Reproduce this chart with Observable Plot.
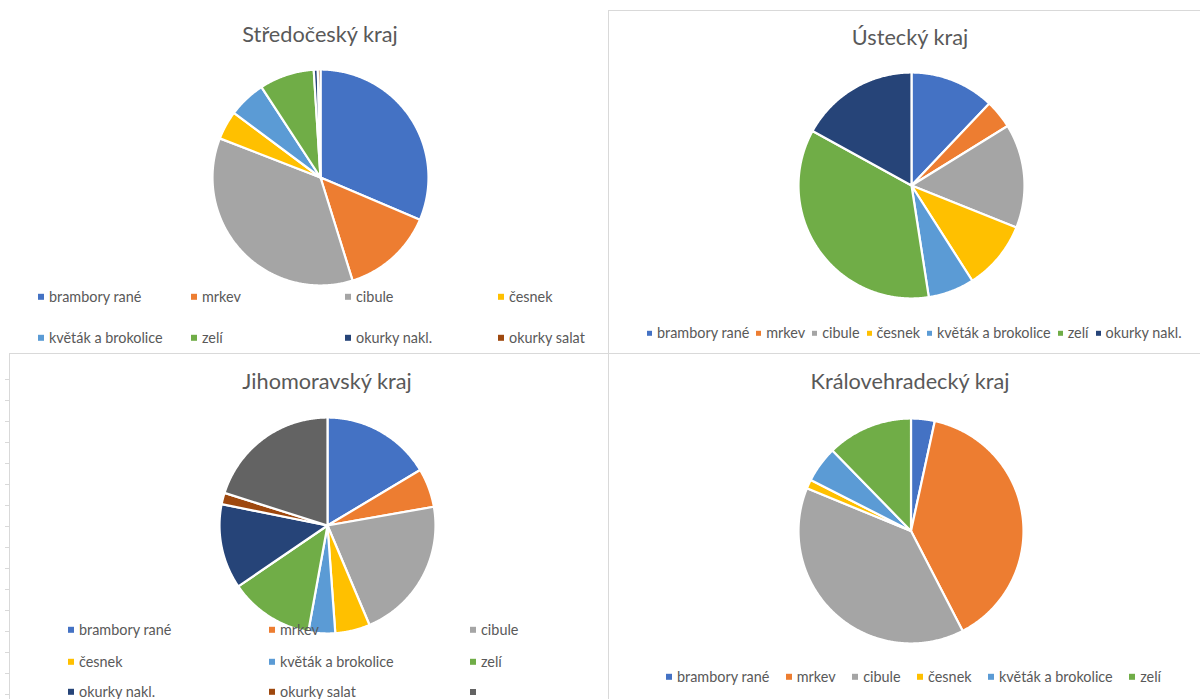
<!DOCTYPE html>
<html><head><meta charset="utf-8">
<script src="https://cdn.jsdelivr.net/npm/d3@7"></script>
<script src="https://cdn.jsdelivr.net/npm/@observablehq/plot@0.6"></script>
<style>
body{margin:0;background:#fff;}
#root{position:relative;width:1200px;height:699px;overflow:hidden;font-family:Lato,"Open Sans",sans-serif;color:#595959;background:#fff;}
.title{position:absolute;transform:translate(-50%,-50%);font-size:21.7px;white-space:nowrap;line-height:1;}
.pie{position:absolute;}
.leg{position:absolute;font-size:14.4px;white-space:nowrap;line-height:1;transform:translateY(-50%);display:flex;align-items:center;}
.sw{display:inline-block;flex:none;}
.ln{position:absolute;background:#d9d9d9;}
</style>
</head><body><div id="root"></div>
<script>
// ---- data ----
const categories = ["brambory rané","mrkev","cibule","česnek","květák a brokolice","zelí","okurky nakl.","okurky salat",""];
const palette = ["#4472C4","#ED7D31","#A5A5A5","#FFC000","#5B9BD5","#70AD47","#264478","#9E480E","#636363"];
const regions = ["Středočeský kraj","Ústecký kraj","Jihomoravský kraj","Královehradecký kraj"];
const stredocesky = [31.4,13.8,35.7,4.3,5.6,8.2,0.6,0.4];
const ustecky = [12.1,4.1,14.9,9.9,6.6,35.5,17.0];
const jihomoravsky = [16.4,5.8,21.4,5.2,4.0,12.6,12.7,1.7,20.1];
const kralovehradecky = [3.4,39.0,38.8,1.3,5.2,12.3];

// ---- layout ----
const panels = [
  {title: regions[0], values: stredocesky, cx: 320, cy: 177, r: 108, tx: 320, ty: 35,
   legend: {type: "grid", cols: [38,191,345,498], rows: [297,338], sw: 6}},
  {title: regions[1], values: ustecky, cx: 911, cy: 185, r: 113, tx: 910, ty: 38,
   legend: {type: "row", x: 647, y: 333, gap: 7, sw: 5}},
  {title: regions[2], values: jihomoravsky, cx: 327, cy: 525, r: 108, tx: 327, ty: 382,
   legend: {type: "grid", cols: [68,269,470], rows: [630,661.5,691.5], sw: 6}},
  {title: regions[3], values: kralovehradecky, cx: 910, cy: 530, r: 112.5, tx: 910, ty: 382,
   legend: {type: "row", x: 666, y: 677, gap: 16.5, sw: 6}}
];

const root = document.getElementById("root");
function el(tag, cls, style, text) {
  const e = document.createElement(tag);
  if (cls) e.className = cls;
  if (style) Object.assign(e.style, style);
  if (text != null) e.textContent = text;
  root.appendChild(e);
  return e;
}

// sheet decoration: borders and row ticks
el("div","ln",{left:"608px",top:"10px",width:"1px",height:"689px"});
el("div","ln",{left:"608px",top:"10px",width:"592px",height:"1px"});
el("div","ln",{left:"9px",top:"353px",width:"1191px",height:"1px"});
el("div","ln",{left:"9px",top:"353px",width:"1px",height:"346px"});
for (let y = 379; y < 699; y += 21) el("div","ln",{left:"5px",top:y+"px",width:"4px",height:"1px"});

function sliceFeatures(values) {
  const arcs = d3.pie().sort(null).value(d => d)(values);
  return arcs.map((a, i) => {
    const n = Math.max(2, Math.ceil((a.endAngle - a.startAngle) / (Math.PI / 360)));
    const ring = [[0, 0]];
    for (let k = 0; k <= n; k++) {
      const t = a.startAngle + (a.endAngle - a.startAngle) * k / n;
      ring.push([Math.sin(t), -Math.cos(t)]);
    }
    ring.push([0, 0]);
    return {type: "Feature", properties: {cat: categories[i], value: values[i]},
            geometry: {type: "Polygon", coordinates: [ring]}};
  });
}

const pad = 3;
for (const p of panels) {
  const size = Math.round(2 * p.r + 2 * pad);
  const chart = Plot.plot({
    width: size, height: size, margin: 0,
    projection: {type: "identity", inset: pad,
      domain: {type: "MultiPoint", coordinates: [[-1,-1],[1,1],[-1,1],[1,-1]]}},
    color: {domain: categories, range: palette},
    marks: [
      Plot.geo(sliceFeatures(p.values), {fill: d => d.properties.cat, stroke: "white", strokeWidth: 2.2, strokeLinejoin: "round"})
    ]
  });
  chart.classList.add("pie");
  Object.assign(chart.style, {left: (p.cx - size / 2) + "px", top: (p.cy - size / 2) + "px"});
  root.appendChild(chart);
  const color = chart.scale("color");

  el("div", "title", {left: p.tx + "px", top: p.ty + "px"}, p.title);

  const L = p.legend;
  const cats = categories.slice(0, p.values.length);
  const makeItem = (cat, style) => {
    const item = el("div", "leg", style);
    const sw = document.createElement("span");
    sw.className = "sw";
    Object.assign(sw.style, {width: L.sw + "px", height: L.sw + "px", background: color.apply(cat), marginRight: "5px"});
    item.appendChild(sw);
    const t = document.createElement("span");
    t.textContent = cat;
    item.appendChild(t);
    return item;
  };
  if (L.type === "grid") {
    cats.forEach((c, i) => {
      const col = i % L.cols.length, row = Math.floor(i / L.cols.length);
      makeItem(c, {left: L.cols[col] + "px", top: L.rows[row] + "px"});
    });
  } else {
    const wrap = el("div", "leg", {left: L.x + "px", top: L.y + "px", gap: L.gap + "px"});
    cats.forEach(c => {
      const it = makeItem(c, {position: "static", transform: "none"});
      wrap.appendChild(it);
    });
  }
}
</script>
</body></html>
